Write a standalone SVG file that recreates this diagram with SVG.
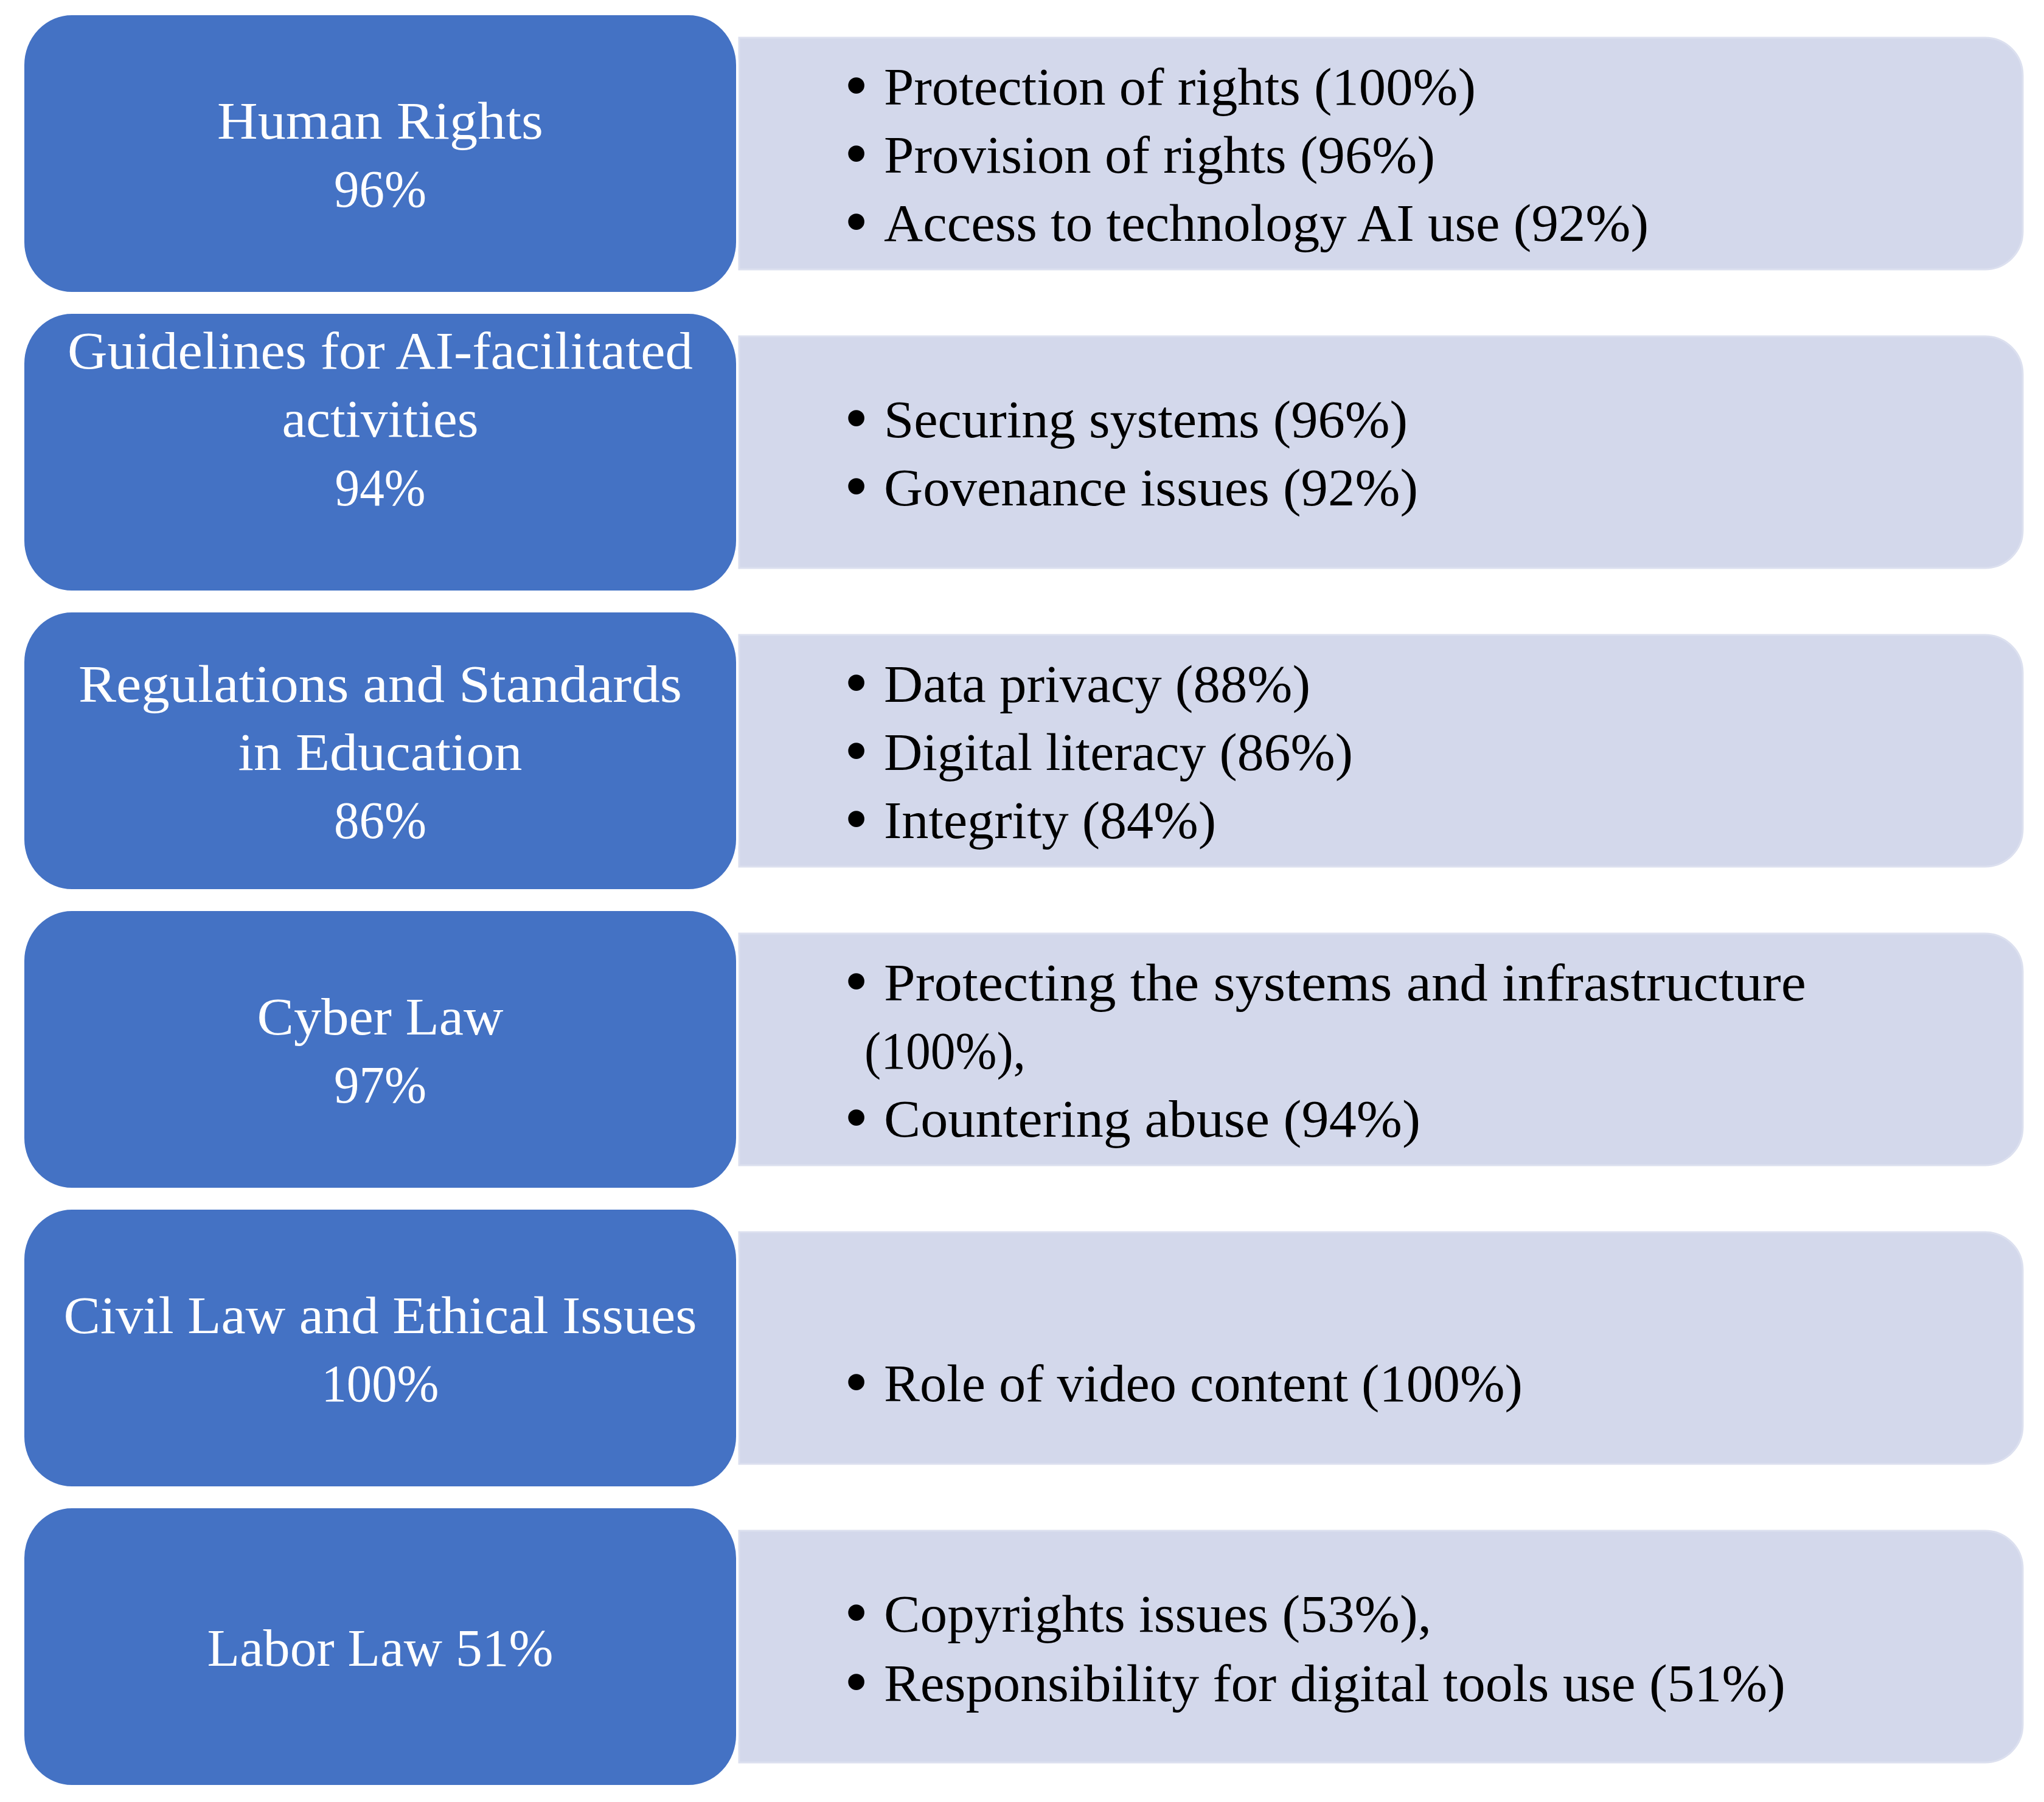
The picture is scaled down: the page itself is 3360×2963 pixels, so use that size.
<svg xmlns="http://www.w3.org/2000/svg" width="3360" height="2963" viewBox="0 0 3360 2963">
<defs>
<style>
.det{fill:#D3D8EB;stroke:#DCE0EF;stroke-width:3}
.cat{fill:#4472C4;stroke:#FFFFFF;stroke-width:4}
.lt{font-family:"Liberation Serif",serif;font-size:86px;fill:#FFFFFF;text-anchor:middle}
.rt{font-family:"Liberation Serif",serif;font-size:86px;fill:#000000}
.bu{font-family:"Liberation Serif",serif;font-size:112px;fill:#000000}
</style>
</defs>
<rect width="3360" height="2963" fill="#FFFFFF"/>
<g id="connectors"></g>

<g id="row1">
<path class="det" d="M1215,62 H3263 A62,62 0 0 1 3325,124 V381 A62,62 0 0 1 3263,443 H1215 Z"/>
<rect class="cat" x="38" y="23" width="1174" height="459" rx="80" ry="84"/>
<text class="lt" x="625" y="228" textLength="536" lengthAdjust="spacingAndGlyphs">Human Rights</text>
<text class="lt" x="625" y="340" textLength="152" lengthAdjust="spacingAndGlyphs">96%</text>
<text class="bu" x="1388" y="178">•</text>
<text class="rt" x="1453" y="172" textLength="973" lengthAdjust="spacingAndGlyphs">Protection of rights (100%)</text>
<text class="bu" x="1388" y="290">•</text>
<text class="rt" x="1453" y="284" textLength="906" lengthAdjust="spacingAndGlyphs">Provision of rights (96%)</text>
<text class="bu" x="1388" y="402">•</text>
<text class="rt" x="1453" y="396" textLength="1257" lengthAdjust="spacingAndGlyphs">Access to technology AI use (92%)</text>
</g>

<g id="row2">
<path class="det" d="M1215,553 H3263 A62,62 0 0 1 3325,615 V872 A62,62 0 0 1 3263,934 H1215 Z"/>
<rect class="cat" x="38" y="514" width="1174" height="459" rx="80" ry="84"/>
<text class="lt" x="625" y="606" textLength="1028" lengthAdjust="spacingAndGlyphs">Guidelines for AI-facilitated</text>
<text class="lt" x="625" y="718" textLength="323" lengthAdjust="spacingAndGlyphs">activities</text>
<text class="lt" x="625" y="831" textLength="149" lengthAdjust="spacingAndGlyphs">94%</text>
<text class="bu" x="1388" y="725">•</text>
<text class="rt" x="1453" y="719" textLength="861" lengthAdjust="spacingAndGlyphs">Securing systems (96%)</text>
<text class="bu" x="1388" y="837">•</text>
<text class="rt" x="1453" y="831" textLength="878" lengthAdjust="spacingAndGlyphs">Govenance issues (92%)</text>
</g>

<g id="row3">
<path class="det" d="M1215,1044 H3263 A62,62 0 0 1 3325,1106 V1363 A62,62 0 0 1 3263,1425 H1215 Z"/>
<rect class="cat" x="38" y="1005" width="1174" height="459" rx="80" ry="84"/>
<text class="lt" x="625" y="1154" textLength="992" lengthAdjust="spacingAndGlyphs">Regulations and Standards</text>
<text class="lt" x="625" y="1266" textLength="467" lengthAdjust="spacingAndGlyphs">in Education</text>
<text class="lt" x="625" y="1378" textLength="152" lengthAdjust="spacingAndGlyphs">86%</text>
<text class="bu" x="1388" y="1160">•</text>
<text class="rt" x="1453" y="1154" textLength="701" lengthAdjust="spacingAndGlyphs">Data privacy (88%)</text>
<text class="bu" x="1388" y="1272">•</text>
<text class="rt" x="1453" y="1266" textLength="771" lengthAdjust="spacingAndGlyphs">Digital literacy (86%)</text>
<text class="bu" x="1388" y="1384">•</text>
<text class="rt" x="1453" y="1378" textLength="546" lengthAdjust="spacingAndGlyphs">Integrity (84%)</text>
</g>

<g id="row4">
<path class="det" d="M1215,1535 H3263 A62,62 0 0 1 3325,1597 V1854 A62,62 0 0 1 3263,1916 H1215 Z"/>
<rect class="cat" x="38" y="1496" width="1174" height="459" rx="80" ry="84"/>
<text class="lt" x="625" y="1701" textLength="405" lengthAdjust="spacingAndGlyphs">Cyber Law</text>
<text class="lt" x="625" y="1813" textLength="152" lengthAdjust="spacingAndGlyphs">97%</text>
<text class="bu" x="1388" y="1651">•</text>
<text class="rt" x="1453" y="1645" textLength="1516" lengthAdjust="spacingAndGlyphs">Protecting the systems and infrastructure</text>
<text class="rt" x="1421" y="1757" textLength="265" lengthAdjust="spacingAndGlyphs">(100%),</text>
<text class="bu" x="1388" y="1875">•</text>
<text class="rt" x="1453" y="1869" textLength="882" lengthAdjust="spacingAndGlyphs">Countering abuse (94%)</text>
</g>

<g id="row5">
<path class="det" d="M1215,2026 H3263 A62,62 0 0 1 3325,2088 V2345 A62,62 0 0 1 3263,2407 H1215 Z"/>
<rect class="cat" x="38" y="1987" width="1174" height="459" rx="80" ry="84"/>
<text class="lt" x="625" y="2192" textLength="1041" lengthAdjust="spacingAndGlyphs">Civil Law and Ethical Issues</text>
<text class="lt" x="625" y="2304" textLength="193" lengthAdjust="spacingAndGlyphs">100%</text>
<text class="bu" x="1388" y="2310">•</text>
<text class="rt" x="1453" y="2304" textLength="1050" lengthAdjust="spacingAndGlyphs">Role of video content (100%)</text>
</g>

<g id="row6">
<path class="det" d="M1215,2517 H3263 A62,62 0 0 1 3325,2579 V2836 A62,62 0 0 1 3263,2898 H1215 Z"/>
<rect class="cat" x="38" y="2478" width="1174" height="459" rx="80" ry="84"/>
<text class="lt" x="625" y="2739" textLength="569" lengthAdjust="spacingAndGlyphs">Labor Law 51%</text>
<text class="bu" x="1388" y="2689">•</text>
<text class="rt" x="1453" y="2683" textLength="900" lengthAdjust="spacingAndGlyphs">Copyrights issues (53%),</text>
<text class="bu" x="1388" y="2803">•</text>
<text class="rt" x="1453" y="2797" textLength="1482" lengthAdjust="spacingAndGlyphs">Responsibility for digital tools use (51%)</text>
</g>
</svg>
